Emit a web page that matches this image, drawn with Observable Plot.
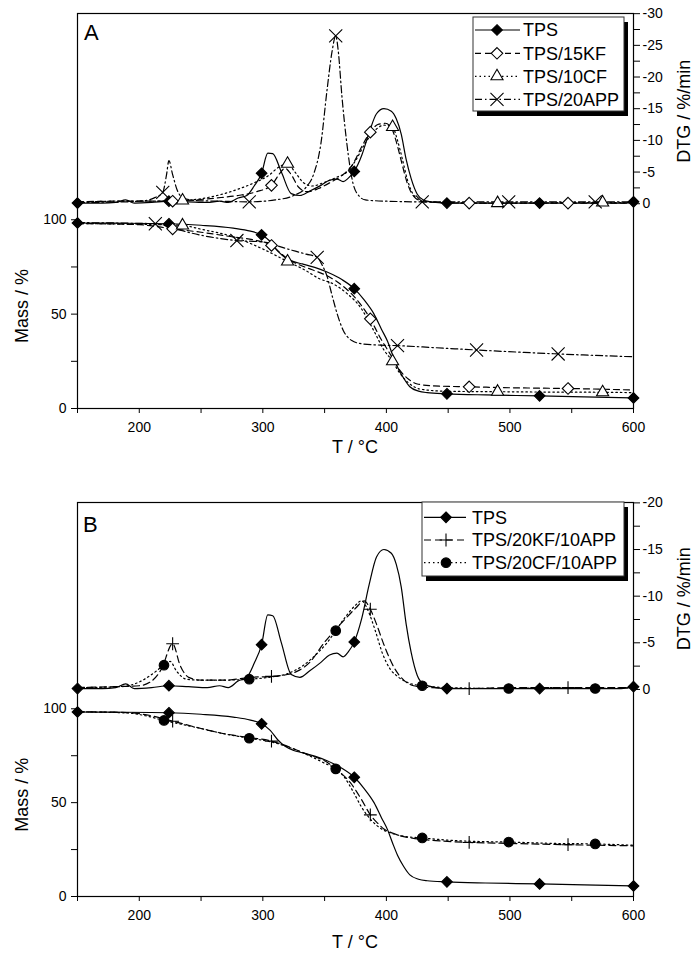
<!DOCTYPE html>
<html><head><meta charset="utf-8">
<script src="https://cdn.jsdelivr.net/npm/d3@7"></script>
<script src="https://cdn.jsdelivr.net/npm/@observablehq/plot@0.6"></script>
<style>
html,body{margin:0;padding:0;background:#fff;}
#chart{width:695px;height:956px;position:relative;background:#fff;}
svg{display:block;}
</style></head><body><div id="chart"></div>
<script>
// ---------- tick labels ----------
const xTicks = [150, 200, 250, 300, 350, 400, 450, 500, 550, 600];
const xLabels = [200, 300, 400, 500, 600];
const massTicks = [0, 25, 50, 75, 100];
const massLabels = [0, 50, 100];
const dtgTicksA = [-30, -27.5, -25, -22.5, -20, -17.5, -15, -12.5, -10, -7.5, -5, -2.5, 0];
const dtgLabelsA = [-30, -25, -20, -15, -10, -5, 0];
const dtgTicksB = [-20, -17.5, -15, -12.5, -10, -7.5, -5, -2.5, 0];
const dtgLabelsB = [-20, -15, -10, -5, 0];

// ---------- TPS (both panels) ----------
const tpsDTG = [[150,-0.1],[170,-0.1],[181,-0.2],[189,-0.6],[196,-0.1],[210,-0.2],[224,-0.4],[240,-0.3],[255,-0.2],[265,-0.4],[272,-0.2],[280,-0.9],[287,-1.3],[293,-2.8],[299,-4.8],[304,-8.0],[308,-7.9],[315,-5.0],[323,-1.6],[330,-1.3],[338,-2.0],[347,-2.9],[354,-3.7],[360,-3.9],[365,-3.5],[369,-4.0],[374,-5.1],[380,-7.6],[386,-11.2],[392,-14.2],[398,-15.0],[404,-14.6],[408,-13.4],[412,-11.0],[416,-7.0],[420,-4.0],[425,-1.5],[430,-0.6],[440,-0.2],[449,-0.1],[480,-0.1],[524,-0.1],[560,-0.1],[590,-0.1],[600,-0.3]];
const tpsMass = [[150,98.3],[180,98.2],[224,97.9],[250,97.1],[276,95.6],[290,94.0],[299,92.0],[306,88.5],[312,83.5],[318,80.0],[325,77.8],[332,76.6],[342,74.8],[352,72.3],[364,68.3],[374,63.5],[382,57.5],[390,50.0],[396,42.0],[401,35.5],[405,28.5],[409,22.0],[414,16.0],[419,11.5],[426,9.2],[433,8.4],[449,7.8],[480,7.2],[524,6.7],[560,6.2],[600,5.6]];
const tpsMarks = [150, 224, 299, 374, 449, 524, 600];

// ---------- Panel A ----------
const kf15DTG = [[150,-0.3],[180,-0.4],[210,-0.4],[227,-0.4],[245,-0.6],[262,-0.9],[280,-1.3],[295,-1.9],[307,-2.9],[313,-4.6],[318,-5.6],[323,-4.6],[329,-2.6],[336,-1.9],[345,-2.4],[355,-3.4],[365,-4.6],[373,-6.3],[380,-9.0],[387,-11.3],[393,-12.5],[399,-12.7],[404,-12.0],[408,-9.8],[412,-6.8],[417,-3.2],[422,-1.2],[430,-0.3],[467,-0.1],[547,-0.1],[600,-0.1]];
const kf15Mass = [[150,98.0],[200,97.4],[227,95.2],[250,93.4],[275,91.0],[295,89.0],[307,86.4],[314,82.5],[320,79.3],[330,76.0],[340,73.5],[352,70.3],[364,65.3],[375,58.5],[387,47.5],[395,37.5],[403,28.9],[410,21.0],[418,15.5],[425,13.0],[438,12.0],[467,11.5],[500,11.0],[547,10.6],[600,9.8]];
const kf15Marks = [227, 307, 387, 467, 547];

const cf10DTG = [[150,-0.2],[180,-0.4],[210,-0.4],[235,-0.5],[250,-0.8],[265,-1.4],[280,-2.3],[293,-3.3],[305,-4.5],[313,-5.8],[320,-6.3],[326,-5.0],[333,-3.3],[340,-2.8],[350,-3.4],[360,-4.2],[368,-5.0],[375,-6.8],[383,-9.6],[392,-11.8],[398,-12.4],[405,-12.1],[409,-10.0],[413,-7.0],[417,-3.8],[422,-1.4],[429,-0.4],[445,-0.2],[490,-0.1],[575,-0.2],[600,-0.1]];
const cf10Mass = [[150,98.0],[200,97.6],[235,97.0],[250,95.0],[276,91.0],[300,84.5],[320,77.9],[335,73.0],[345,69.0],[357,66.0],[368,61.0],[379,53.6],[390,41.0],[398,31.0],[405,25.0],[410,19.5],[418,13.5],[428,10.2],[450,9.1],[490,8.9],[530,8.7],[575,8.6],[600,8.4]];
const cf10Marks = [235, 320, 405, 490, 575];

const app20DTG = [[150,-0.2],[190,-0.3],[205,-0.5],[213,-1.0],[219,-1.8],[222,-4.5],[224,-6.8],[227,-4.6],[231,-2.0],[236,-0.9],[246,-0.5],[265,-0.4],[289,-0.3],[310,-0.6],[325,-1.3],[335,-2.6],[341,-4.6],[347,-9.5],[352,-18.0],[356,-24.0],[359,-26.5],[361,-24.2],[364,-17.0],[368,-9.5],[373,-3.2],[378,-1.2],[383,-0.6],[400,-0.4],[429,-0.3],[499,-0.3],[569,-0.3],[600,-0.3]];
const app20DTGMarks = [219, 289, 359, 429, 499, 569];
const app20Mass = [[150,98.5],[190,98.2],[213,97.9],[230,95.0],[250,91.8],[279,89.0],[300,88.2],[320,84.5],[335,81.8],[344,80.1],[348,76.0],[352,70.0],[356,60.0],[360,50.5],[365,41.5],[372,36.0],[380,34.3],[395,33.6],[409,33.3],[440,32.2],[473,31.0],[539,28.9],[600,27.4]];
const app20MassMarks = [213, 279, 344, 409, 473, 539];

// ---------- Panel B ----------
const kf20DTG = [[150,-0.2],[180,-0.3],[200,-0.4],[210,-0.9],[218,-2.2],[227,-4.9],[233,-2.6],[240,-1.3],[250,-1.0],[270,-1.0],[290,-1.3],[307,-1.4],[320,-1.6],[330,-2.1],[338,-2.9],[349,-4.9],[358,-6.3],[367,-7.6],[375,-8.7],[382,-9.5],[387,-8.6],[392,-7.0],[398,-4.8],[406,-2.4],[414,-1.0],[422,-0.4],[435,-0.2],[467,-0.1],[500,-0.2],[547,-0.2],[600,-0.2]];
const kf20Mass = [[150,98.4],[190,98.0],[209,96.4],[227,93.4],[250,89.5],[263,87.5],[285,85.0],[307,82.8],[322,79.5],[335,76.0],[352,71.5],[362,66.5],[371,60.5],[380,51.5],[387,43.5],[393,39.0],[398,36.0],[405,33.8],[411,32.4],[425,30.7],[440,29.8],[467,28.8],[500,28.3],[547,27.6],[600,27.0]];
const kf20Marks = [227, 307, 387, 467, 547];

const cf20DTG = [[150,-0.2],[185,-0.3],[200,-0.8],[210,-1.6],[220,-2.6],[225,-3.0],[230,-2.0],[238,-1.1],[250,-1.0],[270,-1.0],[289,-1.1],[305,-1.3],[320,-1.7],[333,-2.6],[345,-4.0],[352,-5.0],[359,-6.3],[367,-7.8],[374,-8.9],[380,-9.5],[385,-8.5],[391,-6.3],[397,-3.8],[403,-2.2],[409,-1.4],[418,-0.7],[429,-0.4],[450,-0.2],[499,-0.1],[530,-0.2],[569,-0.1],[600,-0.2]];
const cf20Mass = [[150,98.4],[190,97.8],[205,96.3],[220,93.8],[250,89.5],[270,86.5],[289,84.3],[305,82.6],[320,79.8],[335,75.8],[350,71.0],[359,68.0],[366,63.5],[373,56.0],[380,47.5],[388,40.5],[396,36.0],[405,33.5],[415,32.0],[429,31.2],[450,30.0],[475,29.3],[499,29.0],[535,28.3],[569,28.0],[600,27.3]];
const cf20Marks = [220, 289, 359, 429, 499, 569];

// ---------- styles ----------
const FONT = "'Liberation Sans', Arial, sans-serif";
const S = {
  tps:  {dash: null,            symbol: "diamond2", r: 4.8, fill: "#000"},
  kf15: {dash: "6,4",           symbol: "diamond2", r: 5.2, fill: "#fff"},
  cf10: {dash: "1.5,3",         symbol: "triangle", r: 4.5, fill: "#fff"},
  app20:{dash: "7,3,1.5,3",     symbol: "times",    r: 6,   fill: "none"},
  kf20: {dash: "7,4",           symbol: "plus",     r: 4.2, fill: "none"},
  cf20: {dash: "1.5,3",         symbol: "circle",   r: 4.8, fill: "#000"}
};

function panel(cfg) {
  const toY = d => cfg.off - d * cfg.k;
  const dtgLabelOf = v => {
    const t = cfg.dtgTicks.find(t => Math.abs(toY(t) - v) < 1e-6);
    return cfg.dtgLabels.includes(t) ? String(t) : "";
  };
  const marks = [
    Plot.frame({stroke: "#000", strokeWidth: 1.2}),
    Plot.axisX({ticks: xTicks, tickFormat: d => xLabels.includes(d) ? String(d) : "", tickSize: 5, tickPadding: 9, label: null, fontSize: 14}),
    Plot.axisY({ticks: massTicks, tickFormat: d => massLabels.includes(d) ? String(d) : "", tickSize: 6, tickPadding: 5, label: null, fontSize: 14}),
    Plot.axisY(cfg.dtgTicks.map(toY), {anchor: "right", tickFormat: dtgLabelOf, tickSize: 6, tickPadding: 3, label: null, fontSize: 14})
  ];
  for (const s of cfg.series) {
    const st = S[s.style];
    marks.push(Plot.line(s.dtg, {x: d => d[0], y: d => toY(d[1]), stroke: "#000", strokeWidth: 1.2, strokeDasharray: st.dash, curve: "monotone-x"}));
    marks.push(Plot.line(s.mass, {x: d => d[0], y: d => d[1], stroke: "#000", strokeWidth: 1.2, strokeDasharray: st.dash, curve: "monotone-x"}));
  }
  for (const s of cfg.series) {
    const st = S[s.style];
    const dotOpts = {symbol: st.symbol, r: st.r, fill: st.fill, stroke: "#000", strokeWidth: 1.1};
    marks.push(Plot.dot(s.dtg.filter(d => s.dtgMarks.includes(d[0])), {x: d => d[0], y: d => toY(d[1]), ...dotOpts}));
    marks.push(Plot.dot(s.mass.filter(d => s.massMarks.includes(d[0])), {x: d => d[0], y: d => d[1], ...dotOpts}));
  }
  const p = Plot.plot({
    width: 695, height: cfg.height,
    marginLeft: 77, marginRight: 62, marginTop: cfg.mt, marginBottom: cfg.mb,
    x: {domain: [150, 600]},
    y: {domain: [0, cfg.yTop]},
    style: {fontFamily: FONT, fontSize: "14px", color: "#000", background: "#fff", overflow: "visible"},
    marks
  });
  const svg = d3.select(p);
  const xs = p.scale("x"), ys = p.scale("y");
  const g = svg.append("g").attr("font-family", FONT).attr("fill", "#000");
  g.append("text").attr("x", xs.apply(375)).attr("y", cfg.xTitleY).attr("text-anchor", "middle").attr("font-size", 18).text("T / °C");
  g.append("text").attr("transform", `translate(22,${ys.apply(54)}) rotate(-90)`).attr("text-anchor", "middle").attr("dy", "0.35em").attr("font-size", 18).text("Mass / %");
  g.append("text").attr("transform", `translate(684,${ys.apply(toY(cfg.dtgMid)) + 3}) rotate(-90)`).attr("text-anchor", "middle").attr("dy", "0.35em").attr("font-size", 18).text("DTG / %/min");
  g.append("text").attr("x", cfg.letter[1]).attr("y", cfg.letter[2]).attr("text-anchor", "start").attr("font-size", 22).text(cfg.letter[0]);
  // legend
  const L = cfg.legend;
  const lg = svg.append("g").attr("font-family", FONT).attr("text-anchor", "start");
  lg.append("rect").attr("x", L.x + 4).attr("y", L.y + 5).attr("width", L.w).attr("height", L.h).attr("fill", "#000");
  lg.append("rect").attr("x", L.x).attr("y", L.y).attr("width", L.w).attr("height", L.h).attr("fill", "#fff").attr("stroke", "#333").attr("stroke-width", 1);
  const symMap = {diamond2: d3.symbolDiamond2, triangle: d3.symbolTriangle, times: d3.symbolTimes, plus: d3.symbolPlus, circle: d3.symbolCircle};
  cfg.series.forEach((s, i) => {
    const st = S[s.style], y = L.rows[i];
    lg.append("line").attr("x1", L.x1).attr("x2", L.x2).attr("y1", y).attr("y2", y).attr("stroke", "#000").attr("stroke-width", 1.2).attr("stroke-dasharray", st.dash);
    lg.append("path").attr("d", d3.symbol(symMap[st.symbol], Math.PI * st.r * st.r)()).attr("transform", `translate(${L.mx},${y})`)
      .attr("fill", st.fill).attr("stroke", "#000").attr("stroke-width", 1.1);
    lg.append("text").attr("x", L.tx).attr("y", y).attr("dy", "0.36em").attr("text-anchor", "start").attr("font-size", 18).attr("fill", "#000").text(s.name);
  });
  return p;
}

const chart = document.getElementById("chart");
chart.append(panel({
  height: 478, mt: 13, mb: 70, yTop: 209.3, off: 108.5, k: 3.357,
  dtgTicks: dtgTicksA, dtgLabels: dtgLabelsA, dtgMid: -15, xTitleY: 453,
  letter: ["A", 84, 40],
  series: [
    {name: "TPS", style: "tps", dtg: tpsDTG, mass: tpsMass, dtgMarks: tpsMarks, massMarks: tpsMarks},
    {name: "TPS/15KF", style: "kf15", dtg: kf15DTG, mass: kf15Mass, dtgMarks: kf15Marks, massMarks: kf15Marks},
    {name: "TPS/10CF", style: "cf10", dtg: cf10DTG, mass: cf10Mass, dtgMarks: cf10Marks, massMarks: cf10Marks},
    {name: "TPS/20APP", style: "app20", dtg: app20DTG, mass: app20Mass, dtgMarks: app20DTGMarks, massMarks: app20MassMarks}
  ],
  legend: {x: 473, y: 17, w: 151, h: 94, rows: [30, 53.3, 76.3, 99.3], x1: 475, x2: 520, mx: 497, tx: 523}
}));
chart.append(panel({
  height: 478, mt: 24, mb: 60, yTop: 209.9, off: 110.3, k: 4.97,
  dtgTicks: dtgTicksB, dtgLabels: dtgLabelsB, dtgMid: -10, xTitleY: 470,
  letter: ["B", 83, 54],
  series: [
    {name: "TPS", style: "tps", dtg: tpsDTG, mass: tpsMass, dtgMarks: tpsMarks, massMarks: tpsMarks},
    {name: "TPS/20KF/10APP", style: "kf20", dtg: kf20DTG, mass: kf20Mass, dtgMarks: kf20Marks, massMarks: kf20Marks},
    {name: "TPS/20CF/10APP", style: "cf20", dtg: cf20DTG, mass: cf20Mass, dtgMarks: cf20Marks, massMarks: cf20Marks}
  ],
  legend: {x: 422, y: 24, w: 202, h: 74, rows: [39.3, 62, 84.7], x1: 424, x2: 466, mx: 446, tx: 472}
}));
</script></body></html>
